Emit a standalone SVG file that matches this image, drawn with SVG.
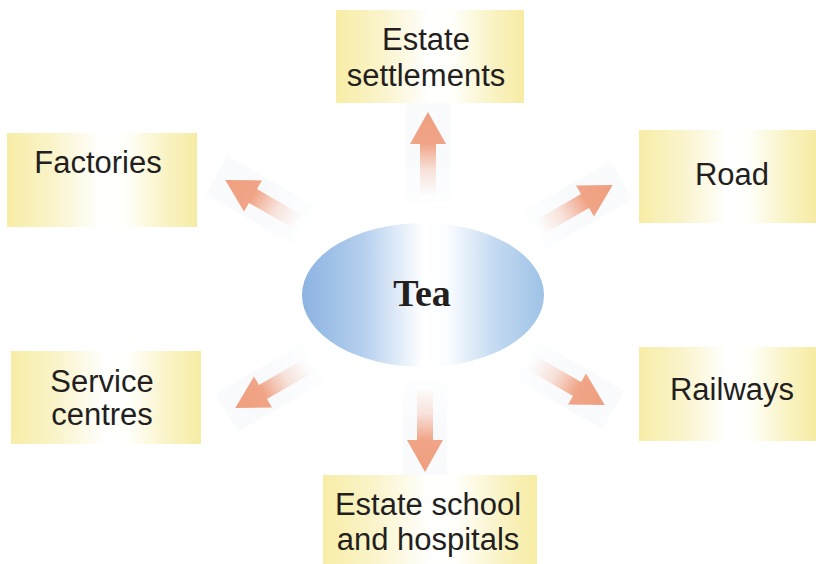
<svg xmlns="http://www.w3.org/2000/svg" xmlns:xlink="http://www.w3.org/1999/xlink" width="816" height="564" viewBox="0 0 816 564">
  <defs>
    <!-- pale yellow label boxes, white towards the middle -->
    <linearGradient id="boxFill" x1="0" y1="0" x2="1" y2="0">
      <stop offset="0" stop-color="#f7eda6"/>
      <stop offset="0.25" stop-color="#faf4cc"/>
      <stop offset="0.5" stop-color="#ffffff"/>
      <stop offset="0.62" stop-color="#fffffb"/>
      <stop offset="0.85" stop-color="#f9f2c0"/>
      <stop offset="1" stop-color="#f6eca4"/>
    </linearGradient>
    <!-- blue centre ellipse -->
    <linearGradient id="hubFill" x1="0" y1="0" x2="1" y2="0">
      <stop offset="0" stop-color="#8cb3e1"/>
      <stop offset="0.25" stop-color="#b4cfee"/>
      <stop offset="0.5" stop-color="#ffffff"/>
      <stop offset="0.6" stop-color="#fbfdff"/>
      <stop offset="0.8" stop-color="#c3daf1"/>
      <stop offset="1" stop-color="#9ec2e6"/>
    </linearGradient>
    <!-- salmon arrow fading out towards its tail -->
    <linearGradient id="arrowFill" x1="0" y1="0" x2="84" y2="0" gradientUnits="userSpaceOnUse">
      <stop offset="0" stop-color="#f2a88c" stop-opacity="0"/>
      <stop offset="0.3" stop-color="#f2a88c" stop-opacity="0.3"/>
      <stop offset="0.62" stop-color="#f0a080" stop-opacity="0.95"/>
      <stop offset="1" stop-color="#ef9f7f"/>
    </linearGradient>
    <linearGradient id="bandFill" x1="0" y1="0" x2="1" y2="0">
      <stop offset="0" stop-color="#eef3f8" stop-opacity="0.1"/>
      <stop offset="0.5" stop-color="#eef3f8" stop-opacity="0.45"/>
      <stop offset="1" stop-color="#eef3f8" stop-opacity="0.35"/>
    </linearGradient>
    <!-- one arrow, tail at the origin, pointing along +x -->
    <g id="arrow">
      <rect x="-6" y="-22" width="100" height="44" fill="url(#bandFill)"/>
      <path d="M0,-8 L52,-8 L52,-18 L84,0 L52,18 L52,8 L0,8 Z" fill="url(#arrowFill)"/>
    </g>
  </defs>
  <style>
    .box { fill: url(#boxFill); }
    .label { font-family: "Liberation Sans", Arial, sans-serif; font-size: 31px; fill: #231f20; text-anchor: middle; }
    .hubtext { font-family: "Liberation Serif", "Times New Roman", serif; font-weight: bold; font-size: 38px; fill: #231f20; text-anchor: middle; }
  </style>

  <rect width="816" height="564" fill="#ffffff"/>

  <g id="connectors">
    <use xlink:href="#arrow" transform="translate(428,196) rotate(-90)"/>
    <use xlink:href="#arrow" transform="translate(425,388) rotate(90)"/>
    <use xlink:href="#arrow" transform="translate(298,222) rotate(-150)"/>
    <use xlink:href="#arrow" transform="translate(540,227) rotate(-30)"/>
    <use xlink:href="#arrow" transform="translate(308,366) rotate(150)"/>
    <use xlink:href="#arrow" transform="translate(532,363) rotate(30)"/>
  </g>

  <g id="tea">
    <ellipse cx="423" cy="295" rx="121" ry="72" fill="url(#hubFill)"/>
    <text class="hubtext" x="422" y="306">Tea</text>
  </g>

  <g id="estate-settlements">
    <rect class="box" x="336" y="10" width="188" height="93"/>
    <text class="label" x="426" y="50">Estate</text>
    <text class="label" x="426" y="86">settlements</text>
  </g>

  <g id="factories">
    <rect class="box" x="7" y="133" width="190" height="94"/>
    <text class="label" x="98" y="173">Factories</text>
  </g>

  <g id="road">
    <rect class="box" x="639" y="130" width="177" height="93"/>
    <text class="label" x="732" y="185">Road</text>
  </g>

  <g id="service-centres">
    <rect class="box" x="11" y="351" width="190" height="93"/>
    <text class="label" x="102" y="392">Service</text>
    <text class="label" x="102" y="425">centres</text>
  </g>

  <g id="railways">
    <rect class="box" x="639" y="347" width="177" height="94"/>
    <text class="label" x="732" y="400">Railways</text>
  </g>

  <g id="estate-school">
    <rect class="box" x="323" y="475" width="214" height="89"/>
    <text class="label" x="428" y="515">Estate school</text>
    <text class="label" x="428" y="550">and hospitals</text>
  </g>
</svg>
